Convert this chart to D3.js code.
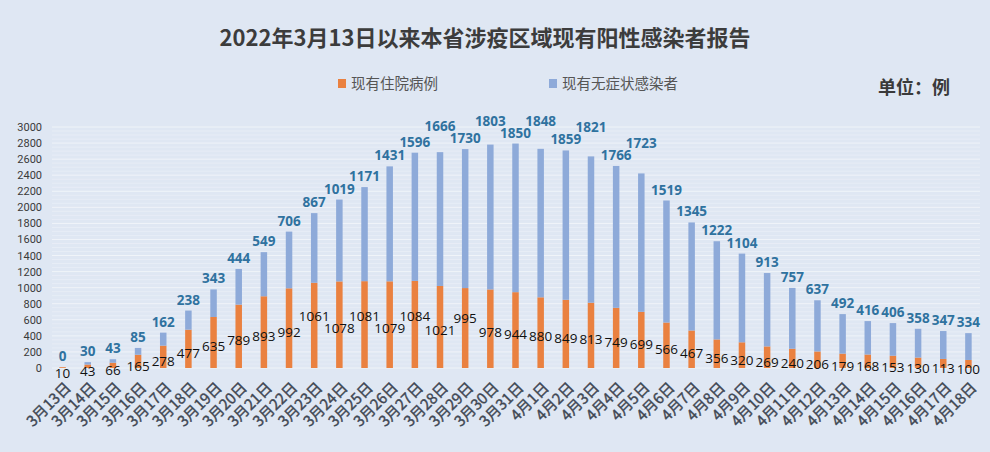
<!DOCTYPE html>
<html><head><meta charset="utf-8">
<script src="https://cdn.jsdelivr.net/npm/d3@7"></script>
<style>
html,body{margin:0;padding:0;background:#dfe7f3;}
svg{display:block;font-family:"Noto Sans CJK SC","Noto Sans",sans-serif;}
</style></head><body>
<svg id="chart" width="990" height="452"></svg>
<script>
const dates = ["3月13日","3月14日","3月15日","3月16日","3月17日","3月18日","3月19日","3月20日","3月21日","3月22日","3月23日","3月24日","3月25日","3月26日","3月27日","3月28日","3月29日","3月30日","3月31日","4月1日","4月2日","4月3日","4月4日","4月5日","4月6日","4月7日","4月8日","4月9日","4月10日","4月11日","4月12日","4月13日","4月14日","4月15日","4月16日","4月17日","4月18日"];
const hospitalized = [10,43,66,165,278,477,635,789,893,992,1061,1078,1081,1079,1084,1021,995,978,944,880,849,813,749,699,566,467,356,320,269,240,206,179,168,153,130,113,100];
const asymptomatic = [0,30,43,85,162,238,343,444,549,706,867,1019,1171,1431,1596,1666,1730,1803,1850,1848,1859,1821,1766,1723,1519,1345,1222,1104,913,757,637,492,416,406,358,347,334];
const yTicks = [0,200,400,600,800,1000,1200,1400,1600,1800,2000,2200,2400,2600,2800,3000];
const seriesNames = ["现有住院病例","现有无症状感染者"];
const title = "2022年3月13日以来本省涉疫区域现有阳性感染者报告";
const unitText = "单位：例";

const colors = {orange:"#ea8140", blue:"#8eaad9", blueLabel:"#2f729f"};
const svg = d3.select("#chart");

svg.append("rect").attr("width",990).attr("height",452).attr("fill","#dfe7f3");

const x = d3.scalePoint().domain(dates).range([50,981]).padding(0.5);
const y = d3.scaleLinear().domain([0,3000]).range([368,127]);
const barW = 6.5;

// grid (major + minor)
const minor = d3.range(0,3001,50);
svg.append("g").selectAll("line").data(minor).join("line")
  .attr("x1",52).attr("x2",980)
  .attr("y1",d=>y(d)).attr("y2",d=>y(d))
  .attr("stroke","#f2f5fa").attr("stroke-opacity",d=>d%200===0?0.9:0.45).attr("stroke-width",1);

// y axis
const yAxis = d3.axisLeft(y).tickValues(yTicks).tickFormat(d3.format("d")).tickSize(0).tickPadding(0);
const yg = svg.append("g").attr("transform","translate(42,0)").call(yAxis);
yg.select(".domain").remove();
yg.selectAll("text").attr("font-size",11).attr("fill","#3a3a3a").attr("font-family","Roboto,'Noto Sans',sans-serif");

// stacked bars
const data = dates.map((d,i)=>({date:d,h:hospitalized[i],a:asymptomatic[i]}));
const stack = d3.stack().keys(["h","a"])(data);
const fills = [colors.orange, colors.blue];
svg.append("g").selectAll("g").data(stack).join("g")
  .attr("fill",(d,i)=>fills[i])
  .selectAll("rect").data(d=>d).join("rect")
  .attr("x",d=>x(d.data.date)-barW/2).attr("width",barW)
  .attr("y",d=>y(d[1])).attr("height",d=>Math.max(0,y(d[0])-y(d[1])));

// de-overlap: within each run of colliding neighbours, raise every other label
function stagger(sel){
  const nodes = sel.nodes();
  const ys = nodes.map(n=>+n.getAttribute("y"));
  const bb = nodes.map(n=>n.getBBox());
  const coll = i => (bb[i-1].x + bb[i-1].width > bb[i].x + 1.5) && Math.abs(ys[i-1]-ys[i]) < 11;
  let i = 1;
  while(i < nodes.length){
    if(coll(i)){
      let s = i-1, e = i;
      while(e+1 < nodes.length && coll(e+1)) e++;
      for(let k=s+1;k<=e;k+=2){
        let m = ys[k];
        if(k-1>=0) m = Math.min(m, ys[k-1]);
        if(k+1<nodes.length) m = Math.min(m, ys[k+1]);
        nodes[k].setAttribute("y", m - 12);
      }
      i = e+1;
    } else i++;
  }
}

// blue labels
const blueLab = svg.append("g").selectAll("text").data(data).join("text")
  .attr("x",d=>x(d.date)).attr("y",d=>y(d.h+d.a)-6)
  .attr("text-anchor","middle").attr("font-size",13.5).attr("font-weight","bold")
  .attr("font-family","'Open Sans','Noto Sans',sans-serif")
  .attr("fill",colors.blueLabel).text(d=>d.a);
stagger(blueLab);

// orange labels
const orLab = svg.append("g").selectAll("text").data(data).join("text")
  .attr("x",d=>x(d.date)).attr("y",d=>y(d.h*0.52)+10)
  .attr("text-anchor","middle").attr("font-size",13.5)
  .attr("font-family","'Open Sans','Noto Sans',sans-serif")
  .attr("fill","#111").text(d=>d.h);
stagger(orLab);

// x labels
const xAxis = d3.axisBottom(x).tickSize(0).tickPadding(0);
const xg = svg.append("g").call(xAxis);
xg.select(".domain").remove();
xg.selectAll(".tick text")
  .attr("transform","translate(5,385) rotate(-45)")
  .attr("y",0).attr("dy","0.35em").attr("x",0)
  .attr("text-anchor","end").attr("font-size",15).attr("font-weight","normal")
  .attr("fill","#3f4753").attr("stroke","#3f4753").attr("stroke-width",0.4)
  .attr("font-family","'Noto Sans CJK SC',sans-serif");

// title
svg.append("text").attr("x",485).attr("y",46).attr("text-anchor","middle")
  .attr("font-size",22).attr("font-weight","bold").attr("fill","#3c3c3c")
  .attr("font-family","'Noto Sans CJK SC',sans-serif").text(title);

// legend
const legX = [338,549];
seriesNames.forEach((n,i)=>{
  svg.append("rect").attr("x",legX[i]).attr("y",79).attr("width",8).attr("height",9).attr("fill",fills[i]);
  svg.append("text").attr("x",legX[i]+13).attr("y",89).attr("font-size",14.5)
    .attr("fill","#555").attr("font-family","'Noto Sans CJK SC',sans-serif").text(n);
});
svg.append("text").attr("x",878).attr("y",94).attr("font-size",18).attr("font-weight","bold")
  .attr("fill","#3a3a3a").attr("font-family","'Noto Sans CJK SC',sans-serif").text(unitText);
</script></body></html>
